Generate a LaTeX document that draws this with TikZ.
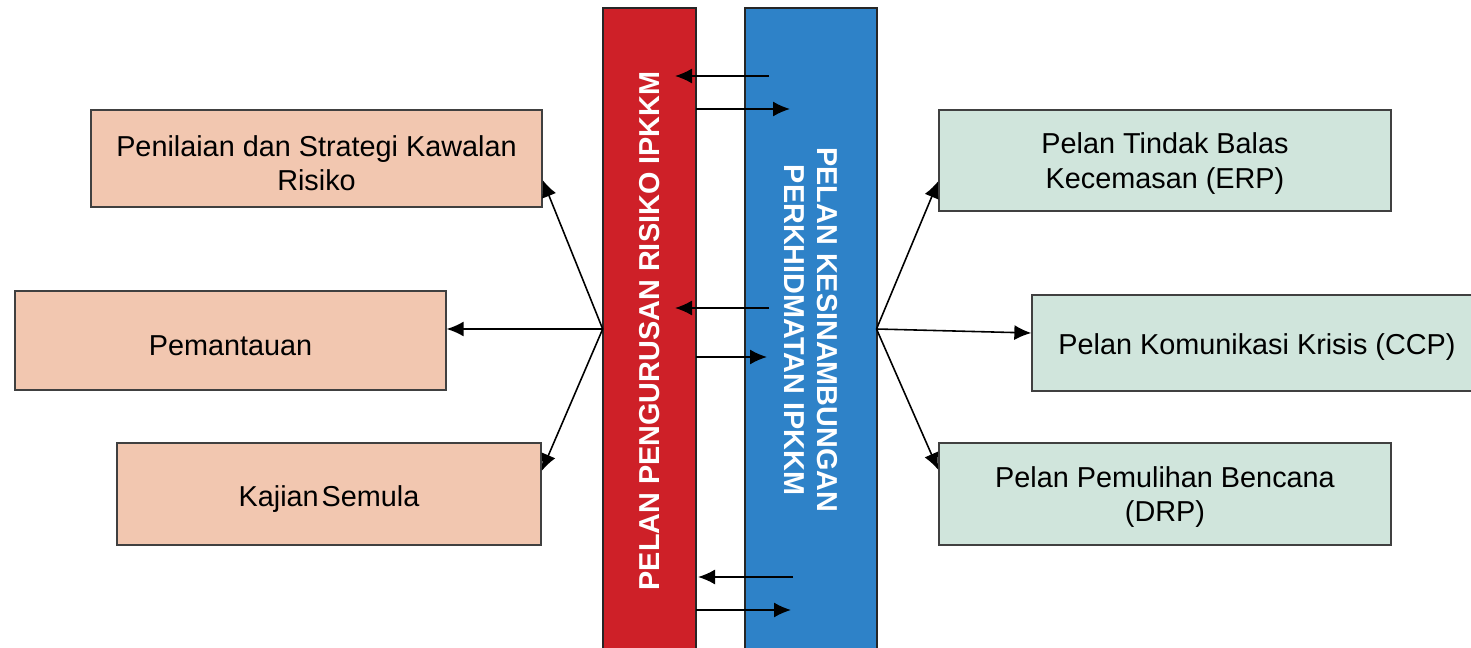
\documentclass[tikz,border=0pt]{standalone}
\usepackage{fontspec}
\setmainfont{Liberation Sans}
\usepackage{tikz}
\usetikzlibrary{arrows.meta, positioning, calc}

\definecolor{barred}{HTML}{CE2028}
\definecolor{barblue}{HTML}{2E82C8}
\definecolor{peach}{HTML}{F2C7B0}
\definecolor{mint}{HTML}{D0E5DC}

\begin{document}
\begin{tikzpicture}[x=0.02cm, y=-0.02cm, >={Latex[length=0.34cm,width=0.3cm]},
      every node/.style = {font=\fontsize{16.4}{19.5}\selectfont, align=center},
      riskbox/.style = {draw=black!75, line width=0.8pt, fill=peach, inner sep=0pt},
      planbox/.style = {draw=black!75, line width=0.8pt, fill=mint, inner sep=0pt},
      boxtext/.style = {inner sep=0pt},
      bar/.style = {draw=black!85, line width=0.9pt, inner sep=0pt, text=white,
        font=\fontsize{16.4}{19}\selectfont\bfseries},
      link/.style = {->, line width=0.9pt}]
    \useasboundingbox (0,0) rectangle (1471,648);

    % the two plans
    \node[bar, fill=barred, rotate=90, minimum width=12.92cm, minimum height=1.86cm]
      (risk) at (649.4,331) {PELAN PENGURUSAN RISIKO IPKKM};
    \node[bar, fill=barblue, rotate=-90, minimum width=12.88cm, minimum height=2.64cm]
      (bcp) at (811,330) {PELAN KESINAMBUNGAN\\PERKHIDMATAN IPKKM};

    % left side
    \node[riskbox, minimum width=9.02cm, minimum height=1.94cm] (assess) at (316.5,158.5) {};
    \node[riskbox, minimum width=8.62cm, minimum height=1.98cm] (monitor) at (230.5,340.5) {};
    \node[riskbox, minimum width=8.48cm, minimum height=2.04cm] (review) at (329,494) {};
    \node[boxtext] (assesstxt) at ([yshift=-0.1cm]assess) {Penilaian dan Strategi Kawalan\\Risiko};
    \node[boxtext] (monitortxt) at ([yshift=-0.1cm]monitor) {Pemantauan};
    \node[boxtext] (reviewtxt) at ([yshift=-0.1cm]review) {Kajian\hspace{0.1em}Semula};

    % right side
    \node[planbox, minimum width=9.04cm, minimum height=2.02cm] (erp) at (1165,160.5) {};
    \node[planbox, minimum width=9.0cm, minimum height=1.92cm] (ccp) at (1257,343) {};
    \node[planbox, minimum width=9.04cm, minimum height=2.04cm] (drp) at (1165,494) {};
    \node[boxtext] (erptxt) at ([yshift=-0.06cm]erp) {Pelan Tindak Balas\\Kecemasan (ERP)};
    \node[boxtext] (ccptxt) at ([yshift=-0.08cm]ccp) {Pelan Komunikasi Krisis (CCP)};
    \node[boxtext] (drptxt) at ([yshift=-0.06cm]drp) {Pelan Pemulihan Bencana\\(DRP)};

    \coordinate (lhub) at (602.7,329);
    \coordinate (rhub) at (876.5,329);

    \draw[link] (lhub) -- ([yshift=-0.43cm]assess.east);
    \draw[link] (lhub) -- ([yshift=0.23cm]monitor.east);
    \draw[link] (lhub) -- ([yshift=0.46cm]review.east);

    \draw[link] (rhub) -- ([yshift=-0.41cm]erp.west);
    \draw[link] (rhub) -- ([yshift=0.2cm]ccp.west);
    \draw[link] (rhub) -- ([yshift=0.48cm]drp.west);

    % between the bars
    \coordinate (b1) at (769,76);  \coordinate (r1) at (675,76);
    \coordinate (r2) at (696,109); \coordinate (b2) at (790,109);
    \coordinate (b3) at (769,308); \coordinate (r3) at (675,308);
    \coordinate (r4) at (696,357); \coordinate (b4) at (767,357);
    \coordinate (b5) at (793,577); \coordinate (r5) at (698,577);
    \coordinate (r6) at (696,610); \coordinate (b6) at (791,610);

    \draw[link] (b1) -- (r1);
    \draw[link] (r2) -- (b2);
    \draw[link] (b3) -- (r3);
    \draw[link] (r4) -- (b4);
    \draw[link] (b5) -- (r5);
    \draw[link] (r6) -- (b6);
\end{tikzpicture}
\end{document}
